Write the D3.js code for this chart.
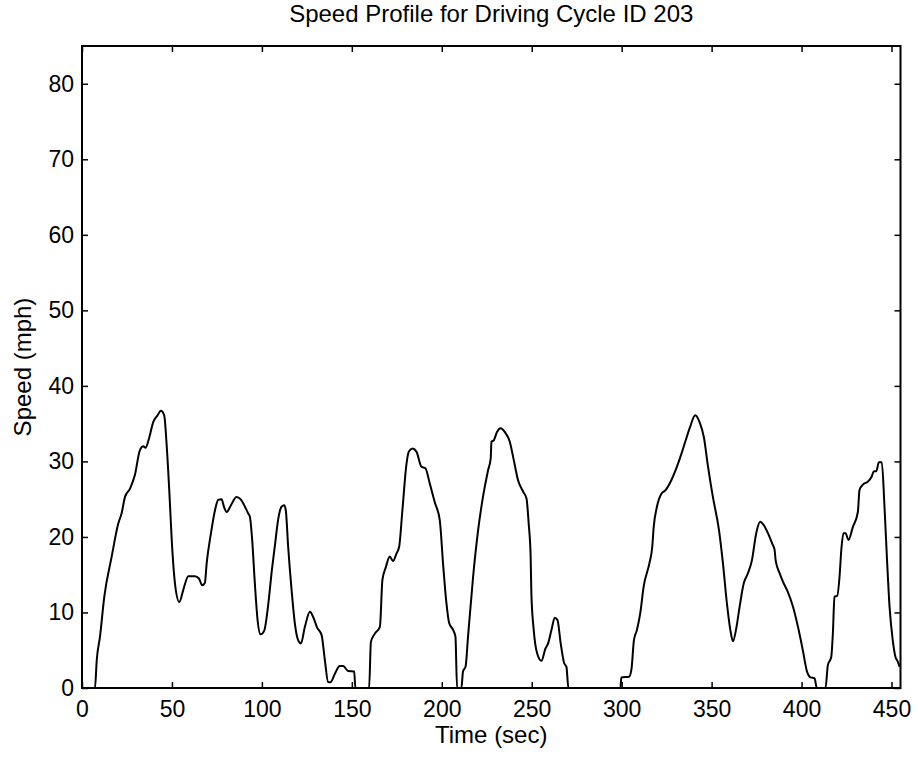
<!DOCTYPE html>
<html>
<head>
<meta charset="utf-8">
<script src="https://cdn.jsdelivr.net/npm/d3@7"></script>
<style>
  html, body { margin: 0; padding: 0; background: #fff; }
  svg { display: block; font-family: "Liberation Sans", Arial, sans-serif; }
</style>
</head>
<body>
<svg id="chart" width="918" height="761"></svg>
<script>
const chartTitle = "Speed Profile for Driving Cycle ID 203";
const xLabel = "Time (sec)";
const yLabel = "Speed (mph)";
const xTicks = [0, 50, 100, 150, 200, 250, 300, 350, 400, 450];
const yTicks = [0, 10, 20, 30, 40, 50, 60, 70, 80];
const xDomain = [0, 455];
const yDomain = [0, 85];

const times = [0,7.2,8.2,10,12.4,16.5,20.2,22,23.9,26.7,29.4,32.2,34.1,35.3,37.2,39.6,42.0,43.9,45.7,47.0,48.5,50.2,51.7,54.1,56.3,59.1,62.8,65,66.8,68.3,69.3,71.7,73.9,75.7,77.6,78.9,80.4,82.8,85.9,88.1,90.6,92.4,93.3,94.6,96.1,97.6,99.3,101.3,103.5,105.5,107.2,109.1,110.9,112.4,113.3,114.6,116.5,118.3,120.2,121.7,123.9,126.7,128.5,130.7,133.2,135,136.8,138.1,140.6,143.3,145.2,147.9,151.3,152,159.6,160.6,162.8,165.6,167.0,168.9,171.1,172.9,174.8,176.3,178.1,180.4,181.7,183.7,185.9,188.7,190.9,193.3,196.1,198.9,200.7,202.6,204.1,206.3,207.6,208.5,210.9,211.8,213.2,214.6,217.4,220.2,222.9,225.7,227.2,227.6,228.9,230.7,232.8,235,237.8,240,242.4,245.2,247.1,248.3,249.4,249.8,251.1,253,255.4,257.6,259.1,261,262.8,264.3,266.1,268,269.3,270.4,299.3,299.8,304.1,305.4,306.8,308.5,310.4,312.2,315.4,317,317.8,319.6,322,324.4,327.6,330.4,333.2,335.6,337.8,340.9,343.3,345.7,348,350.7,354.1,356.3,358.5,360.4,361.9,363.7,365.6,367.8,370.2,372.4,374.8,377.0,378.9,381.3,383.7,385,385.6,387.8,389.6,392.4,395.2,398,400.7,403,405,407.2,408.5,413.3,414.6,416.5,417.4,418.3,419.8,421.1,422.1,423.3,424.4,426.1,428.5,431.3,432.2,434.4,436.8,439,440.2,441.5,443,444.6,446.1,447.6,448.9,450.7,452.2,453.5,454.5];
const speeds = [0,0,3.7,6.8,12.1,17.4,21.8,23.1,25.3,26.4,28.2,31.5,32.0,31.8,33.0,35.2,36.1,36.7,36.1,32.4,26.2,18.3,13.8,11.4,13.0,14.8,14.8,14.5,13.6,13.9,16.5,20.5,23.5,24.9,25.0,24.0,23.3,24.2,25.3,25.0,24.0,23.1,22.7,19.6,13.8,9.0,7.1,7.6,11.0,15.5,18.8,22.4,24.0,24.2,23.5,18.7,13.0,8.6,6.3,5.9,8.1,10.1,9.4,8.0,7.0,3.7,0.8,0.75,1.9,2.9,2.9,2.25,2.2,0,0,6.1,7.2,8.1,14.3,16.0,17.4,16.8,17.8,18.7,23.5,29.7,31.3,31.7,31.3,29.3,29.1,27.1,24.6,22.2,16.5,11.2,8.6,7.7,6.8,0,0,2.2,2.8,6.8,14.7,20.9,25.3,28.8,30.4,32.6,32.8,33.9,34.4,33.9,32.6,30.2,27.5,26.0,25.1,21.8,17.4,12.5,7.7,4.6,3.6,5.2,5.9,7.7,9.3,9.0,5.9,3.3,2.8,0,0,1.4,1.5,2.4,6.3,7.7,10.0,13.4,16.5,18.7,21.3,24.0,25.7,26.2,27.5,29.1,31.0,32.8,34.4,36.1,35.2,33.2,29.3,25.3,20.9,16.5,11.2,7.7,6.2,7.9,10.8,13.8,15.2,16.9,20.5,22.0,21.6,20.5,19.1,18.3,16.9,15.2,14.1,12.7,10.8,8.1,5.0,2.2,1.4,1.3,0,0,3.0,4.1,7.2,12.1,12.2,14.7,18.3,20.5,20.5,19.6,21.3,23.3,26.2,27.0,27.3,28.0,28.7,28.7,29.9,29.9,24.0,16.5,10.8,6.3,4.1,3.5,2.8];

const margin = { left: 82, top: 46, right: 918 - 900.5, bottom: 761 - 688 };
const W = 918, H = 761;
const pw = W - margin.left - margin.right;
const ph = H - margin.top - margin.bottom;

const svg = d3.select("#chart");
const g = svg.append("g").attr("transform", `translate(${margin.left},${margin.top})`);

const x = d3.scaleLinear().domain(xDomain).range([0, pw]);
const y = d3.scaleLinear().domain(yDomain).range([ph, 0]);

g.append("clipPath").attr("id", "clip").append("rect")
  .attr("x", 0).attr("y", 0).attr("width", pw).attr("height", ph);

const data = times.map((t, i) => ({ t, v: speeds[i] }));
const line = d3.line().x(d => x(d.t)).y(d => y(d.v)).curve(d3.curveMonotoneX);

g.append("path")
  .datum(data)
  .attr("clip-path", "url(#clip)")
  .attr("fill", "none")
  .attr("stroke", "#000")
  .attr("stroke-width", 2)
  .attr("stroke-linejoin", "round")
  .attr("d", line);

const tickLen = 6;
const fs = 23;

// bottom axis
const xb = g.append("g").attr("transform", `translate(0,${ph})`)
  .call(d3.axisBottom(x).tickValues(xTicks).tickSize(-tickLen).tickPadding(13).tickFormat(d3.format("d")));
// top axis (ticks only)
const xt = g.append("g")
  .call(d3.axisTop(x).tickValues(xTicks).tickSize(-tickLen).tickFormat(""));
// left axis
const yl = g.append("g")
  .call(d3.axisLeft(y).tickValues(yTicks).tickSize(-tickLen).tickPadding(8).tickFormat(d3.format("d")));
// right axis (ticks only)
const yr = g.append("g").attr("transform", `translate(${pw},0)`)
  .call(d3.axisRight(y).tickValues(yTicks).tickSize(-tickLen).tickFormat(""));

[xb, xt, yl, yr].forEach(a => {
  a.select(".domain").remove();
  a.selectAll(".tick line").attr("stroke", "#000").attr("stroke-width", 1.5);
  a.selectAll(".tick text").attr("fill", "#000").attr("font-size", fs)
    .attr("font-family", '"Liberation Sans", Arial, sans-serif');
});

// frame
g.append("rect").attr("x", 0).attr("y", 0).attr("width", pw).attr("height", ph)
  .attr("fill", "none").attr("stroke", "#000").attr("stroke-width", 2);

// title
svg.append("text")
  .attr("x", margin.left + pw / 2).attr("y", 22)
  .attr("text-anchor", "middle").attr("font-size", 24).attr("fill", "#000")
  .text(chartTitle);

// x label
svg.append("text")
  .attr("x", margin.left + pw / 2).attr("y", 743)
  .attr("text-anchor", "middle").attr("font-size", 24).attr("fill", "#000")
  .text(xLabel);

// y label
svg.append("text")
  .attr("transform", `translate(31,${margin.top + ph / 2}) rotate(-90)`)
  .attr("text-anchor", "middle").attr("font-size", 24).attr("fill", "#000")
  .text(yLabel);
</script>
</body>
</html>
